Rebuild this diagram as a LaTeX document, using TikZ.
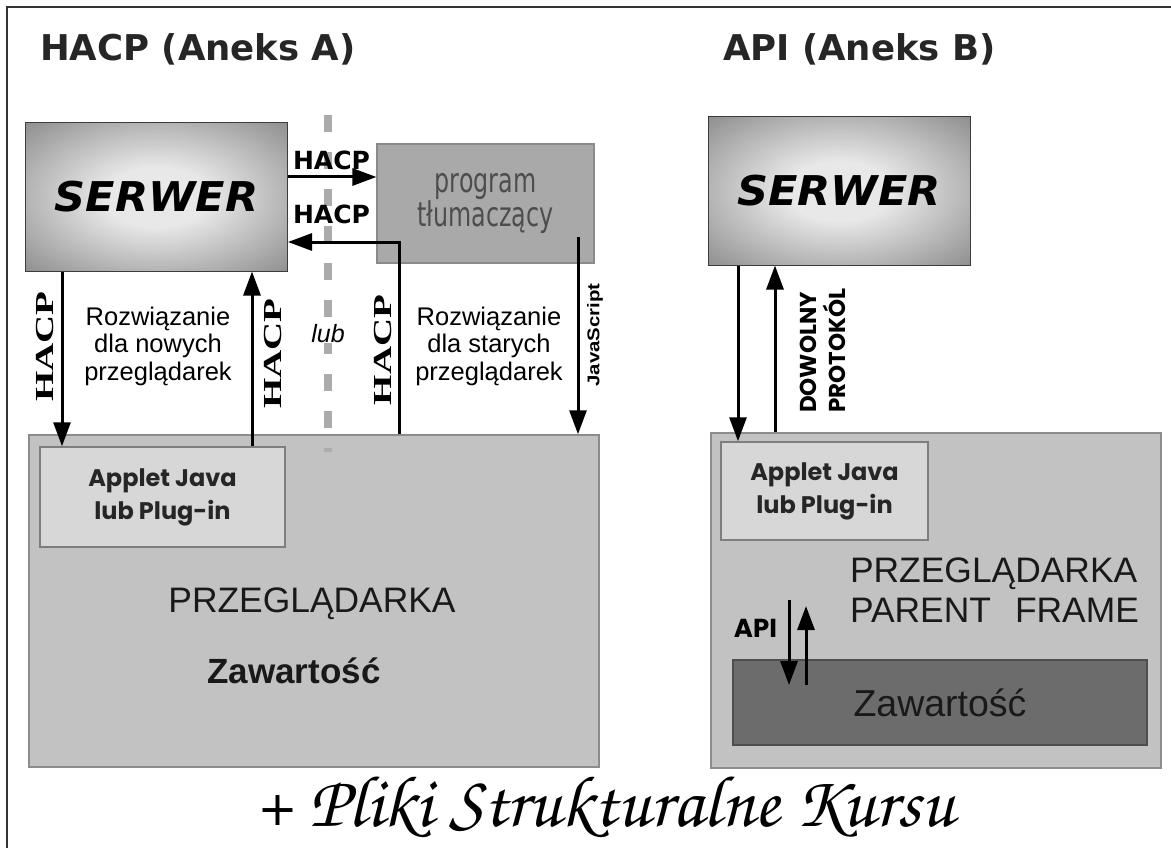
\documentclass[tikz,border=0pt]{standalone}
\usepackage[T1]{fontenc}
\usepackage{fontspec}
\setmainfont{Liberation Sans}
\newfontfamily\ttlfont{DejaVu Sans}
\newfontfamily\srvfont{DejaVu Sans}[FakeStretch=1.05]
\newfontfamily\hacpfont{Liberation Serif}[FakeStretch=1.5]
\newfontfamily\progfont{DejaVu Sans}[FakeStretch=0.7]
\newfontfamily\jsfont{Liberation Sans}[FakeStretch=1.2]
\newfontfamily\geofont{Poppins}
\usepackage{xcolor}
\usepackage{tikz}
\usetikzlibrary{arrows.meta}
\newcommand{\fsz}[2]{\fontsize{#1}{#2}\selectfont}
\definecolor{SC_FRAME}{HTML}{333333}
\definecolor{SC_SRVIN}{HTML}{E8E8E8}
\definecolor{SC_SRVMID}{HTML}{A2A2A2}
\definecolor{SC_SRVOUT}{HTML}{5E5E5E}
\definecolor{SC_SRVEDGE}{HTML}{3E3E3E}
\definecolor{SC_SRVLN}{HTML}{3C3C3C}
\definecolor{SC_BRW}{HTML}{C2C2C2}
\definecolor{SC_BRWLN}{HTML}{8C8C8C}
\definecolor{SC_APL}{HTML}{D7D7D7}
\definecolor{SC_APLLN}{HTML}{7E7E7E}
\definecolor{SC_PRG}{HTML}{A9A9A9}
\definecolor{SC_PRGLN}{HTML}{8A8A8A}
\definecolor{SC_PTXT}{HTML}{4D4D4D}
\definecolor{SC_ZAW}{HTML}{6C6C6C}
\definecolor{SC_ZAWLN}{HTML}{4E4E4E}
\definecolor{SC_SEP}{HTML}{ABABAB}
\pgfdeclareradialshading{srvglow}{\pgfpoint{0bp}{0bp}}{%
  color(0bp)=(SC_SRVIN); color(10bp)=(SC_SRVIN); color(30bp)=(SC_SRVMID);
  color(50bp)=(SC_SRVOUT); color(71bp)=(SC_SRVEDGE)}
\tikzset{
  srv/.style={
    rectangle, draw=SC_SRVLN, line width=1pt, shading=srvglow,
    minimum width=262, minimum height=148, inner sep=0pt,
    font=\srvfont\bfseries\itshape\fsz{41}{41}},
  brw/.style={
    rectangle, draw=SC_BRWLN, line width=1.5pt, fill=SC_BRW, inner sep=0pt},
  apl/.style={
    rectangle, draw=SC_APLLN, line width=1.5pt, fill=SC_APL,
    text=black!85, align=center, inner sep=0pt,
    font=\geofont\bfseries\fsz{24}{33}},
  prg/.style={
    rectangle, draw=SC_PRGLN, line width=1.2pt, fill=SC_PRG,
    text=SC_PTXT, align=center, inner sep=0pt,
    font=\progfont\fsz{34}{32}},
  zaw/.style={
    rectangle, draw=SC_ZAWLN, line width=1.5pt, fill=SC_ZAW,
    text=black!90, inner sep=0pt, font=\fsz{37.5}{37.5}},
  ttl/.style={font=\ttlfont\bfseries\fsz{35.5}{35.5}, inner sep=0pt, text=black!85},
  big/.style={font=\fsz{35.4}{40}, inner sep=0pt, text=black!90},
  lbl/.style={font=\fsz{25.5}{27.5}, align=center, inner sep=0pt},
  hlbl/.style={font=\ttlfont\bfseries\fsz{25}{25}, inner sep=0pt},
  vlbl/.style={rotate=90, font=\hacpfont\bfseries\fsz{26}{26}, inner sep=0pt},
  arr/.style={-{Triangle[length=24pt,width=17pt]}, line width=3pt},
  divider/.style={draw=SC_SEP, line width=8pt, dash pattern=on 17pt off 20pt},
}
\begin{document}
\begin{tikzpicture}[x=1pt, y=-1pt]
  \useasboundingbox (0,0) rectangle (1171,848);
  \draw[SC_FRAME, line width=1.5pt] (7,848) -- (7,7) -- (1171,7);

  % titles
  \node[ttl, anchor=base west] (ttlA) at (40,61) {HACP (Aneks A)};
  \node[ttl, anchor=base west] (ttlB) at (723,61) {API (Aneks B)};

  % boxes
  \node[srv] (srvA) at (156.5,197) {SERWER};
  \node[srv] (srvB) at (839,191) {SERWER};
  \node[prg, minimum width=217, minimum height=119] (prog) at (485.5,203.5)
    {program\\tłumaczący};
  \node[brw, minimum width=570, minimum height=332] (brA) at (314,601) {};
  \node[brw, minimum width=450, minimum height=335] (brB) at (936,600.5) {};
  \node[apl, minimum width=245, minimum height=100] (appA) at (162.5,497)
    {Applet Java\\lub Plug-in};
  \node[apl, minimum width=207, minimum height=98] (appB) at (824.5,491)
    {Applet Java\\lub Plug-in};
  \node[zaw, minimum width=414, minimum height=85] (zawB) at (940,702.5)
    {Zawartość};

  % browser texts
  \node[big, anchor=base] (przA) at (312,612) {PRZEGLĄDARKA};
  \node[big, anchor=base, font=\bfseries\fsz{35}{35}] (zawA) at (294,683) {Zawartość};
  \node[big, align=left] (przB) at (994.5,590.5) {PRZEGLĄDARKA\\PARENT\hspace{24pt}FRAME};

  % separator
  \coordinate (sepT) at (328,115);
  \coordinate (sepB) at (328,452);
  \draw[divider] (sepT) -- (sepB);

  % connectors
  \coordinate (reqA) at (287,177);
  \coordinate (retA) at (399,242);
  \coordinate (jsA)  at (578,237);
  \coordinate (dnA)  at (62,300);
  \coordinate (upA)  at (252,300);
  \coordinate (dnB)  at (738,300);
  \coordinate (upB)  at (775,300);
  \coordinate (apiD) at (789,600);
  \coordinate (apiDe) at (789,685);
  \coordinate (apiU) at (806,685);
  \coordinate (apiUe) at (806,606);

  \draw[arr] (reqA -| srvA.east) -- (reqA -| prog.west);
  \draw[arr] (retA |- brA.north) -- (retA) -- (retA -| srvA.east);
  \draw[arr] (jsA) -- (jsA |- brA.north);
  \draw[arr] (dnA |- srvA.south) -- (dnA |- appA.north);
  \draw[arr] (upA |- appA.north) -- (upA |- srvA.south);
  \draw[arr] (dnB |- srvB.south) -- (dnB |- appB.north);
  \draw[arr] (upB |- brB.north) -- (upB |- srvB.south);
  \draw[arr] (apiD) -- (apiDe);
  \draw[arr] (apiU) -- (apiUe);

  % connector labels
  \node[hlbl, anchor=base] (hReq) at (331.5,170) {HACP};
  \node[hlbl, anchor=base] (hRet) at (331.5,223) {HACP};
  \node[vlbl] (vDn) at (45,346.5) {HACP};
  \node[vlbl] (vUp) at (273,353.5) {HACP};
  \node[vlbl] (vRet) at (383,350) {HACP};
  \node[rotate=90, inner sep=0pt, font=\jsfont\bfseries\fsz{17}{17}] (jsLbl) at (595,335) {JavaScript};
  \node[rotate=90, anchor=west, align=left, inner sep=0pt,
        font=\geofont\bfseries\fsz{23}{29}] (protB) at (822.5,413) {DOWOLNY\\PROTOKÓL};
  \node[anchor=base, inner sep=0pt, font=\geofont\bfseries\fsz{26}{26}] (apiLbl) at (755.5,637) {API};

  % notes
  \node[lbl] (newA) at (158,346) {Rozwiązanie\\dla nowych\\przeglądarek};
  \node[lbl] (oldA) at (489,346) {Rozwiązanie\\dla starych\\przeglądarek};
  \node[anchor=base, fill=white, inner sep=1pt, font=\itshape\fsz{25}{25}] (lub) at (328,342) {lub};

  % footer
  \node[anchor=base, inner sep=0pt, font={\fontsize{73}{73}\usefont{T1}{pzc}{m}{it}}] (foot) at (605,826)
    {+ Pliki Strukturalne Kursu};
\end{tikzpicture}
\end{document}
